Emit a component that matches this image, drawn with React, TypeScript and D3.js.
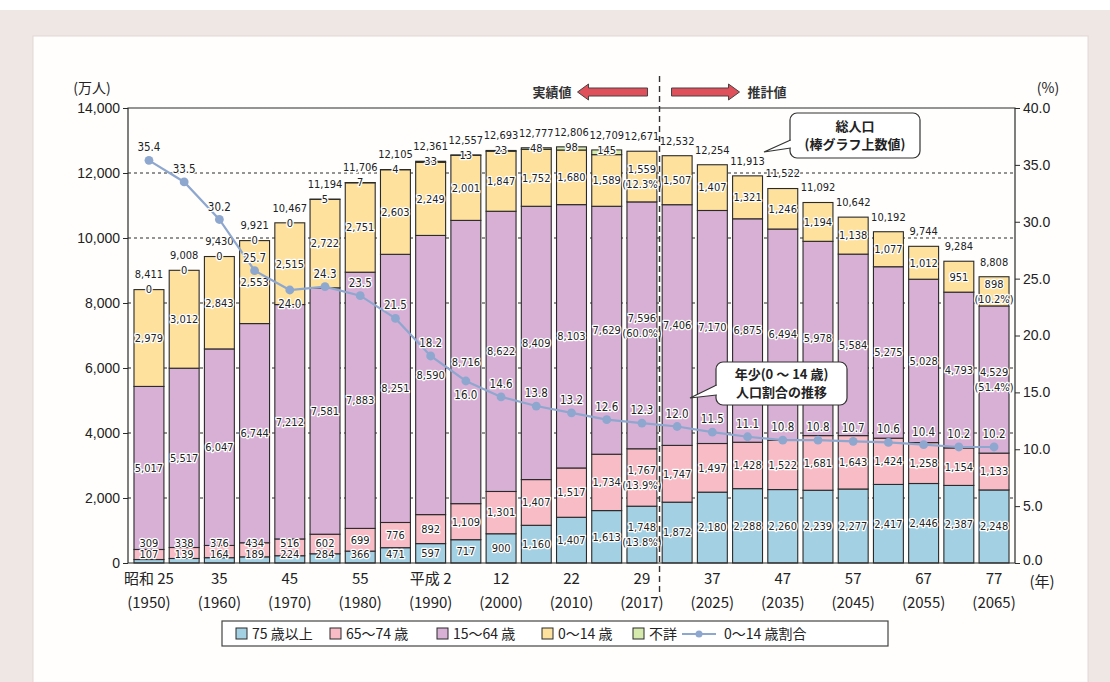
import { useEffect, useRef } from "react";
import * as d3 from "d3";

// 実績値 1950–2017, 推計値 2020–2065 (万人)
const years = [1950, 1955, 1960, 1965, 1970, 1975, 1980, 1985, 1990, 1995, 2000, 2005, 2010, 2015, 2017,
  2020, 2025, 2030, 2035, 2040, 2045, 2050, 2055, 2060, 2065];
const age75plus = [107, 139, 164, 189, 224, 284, 366, 471, 597, 717, 900, 1160, 1407, 1613, 1748,
  1872, 2180, 2288, 2260, 2239, 2277, 2417, 2446, 2387, 2248];
const age65to74 = [309, 338, 376, 434, 516, 602, 699, 776, 892, 1109, 1301, 1407, 1517, 1734, 1767,
  1747, 1497, 1428, 1522, 1681, 1643, 1424, 1258, 1154, 1133];
const age15to64 = [5017, 5517, 6047, 6744, 7212, 7581, 7883, 8251, 8590, 8716, 8622, 8409, 8103, 7629, 7596,
  7406, 7170, 6875, 6494, 5978, 5584, 5275, 5028, 4793, 4529];
const age0to14 = [2979, 3012, 2843, 2553, 2515, 2722, 2751, 2603, 2249, 2001, 1847, 1752, 1680, 1589, 1559,
  1507, 1407, 1321, 1246, 1194, 1138, 1077, 1012, 951, 898];
const unknownAge = [0, 0, 0, 0, 0, 5, 7, 4, 33, 13, 23, 48, 98, 145, null,
  null, null, null, null, null, null, null, null, null, null];
const totals = [8411, 9008, 9430, 9921, 10467, 11194, 11706, 12105, 12361, 12557, 12693, 12777, 12806, 12709, 12671,
  12532, 12254, 11913, 11522, 11092, 10642, 10192, 9744, 9284, 8808];
const childShare = [35.4, 33.5, 30.2, 25.7, 24.0, 24.3, 23.5, 21.5, 18.2, 16.0, 14.6, 13.8, 13.2, 12.6, 12.3,
  12.0, 11.5, 11.1, 10.8, 10.8, 10.7, 10.6, 10.4, 10.2, 10.2];
const shareNotes = [
  { i: 14, key: "a0", text: "(12.3%)" },
  { i: 14, key: "a15", text: "(60.0%)" },
  { i: 14, key: "a65", text: "(13.9%)" },
  { i: 14, key: "a75", text: "(13.8%)" },
  { i: 24, key: "a0", text: "(10.2%)" },
  { i: 24, key: "a15", text: "(51.4%)" },
];
const eraLabels = ["昭和 25", "35", "45", "55", "平成 2", "12", "22", "29", "37", "47", "57", "67", "77"];
const yearLabels = ["(1950)", "(1960)", "(1970)", "(1980)", "(1990)", "(2000)", "(2010)", "(2017)", "(2025)", "(2035)", "(2045)", "(2055)", "(2065)"];
const leftTicks = [0, 2000, 4000, 6000, 8000, 10000, 12000, 14000];
const rightTicks = [0, 5, 10, 15, 20, 25, 30, 35, 40];
const legendNames = ["75 歳以上", "65～74 歳", "15～64 歳", "0～14 歳", "不詳"];
const lineLegend = "0～14 歳割合";
const shareBelow = new Set([4, 9]);

const series = [
  { key: "a75", values: age75plus, color: "#a3d0e3" },
  { key: "a65", values: age65to74, color: "#f8bcc6" },
  { key: "a15", values: age15to64, color: "#d8b0d5" },
  { key: "a0", values: age0to14, color: "#fde19d" },
  { key: "unk", values: unknownAge, color: "#d6eaae" },
];

const JP = "'Noto Sans CJK JP', sans-serif";
const NUM = "'Liberation Sans Narrow', 'DejaVu Sans Condensed', 'Liberation Sans', sans-serif";
const INK = "#2a2a2a";
const LINE = "#8ea7cf";

export default function App() {
  const ref = useRef<SVGSVGElement>(null);
  useEffect(() => {
    if (!ref.current) return;
    const svg = d3.select(ref.current);
    svg.selectAll("*").remove();
    const W = 1110, H = 682;
    const m = { l: 128, r: 1015, t: 108, b: 563 };

    // page + card
    svg.append("rect").attr("width", W).attr("height", H).attr("fill", "#ffffff");
    svg.append("rect").attr("y", 10).attr("width", W).attr("height", H - 10).attr("fill", "#eee7e4");
    svg.append("rect").attr("x", 33).attr("y", 36).attr("width", 1055).attr("height", H).attr("fill", "#fffefd")
      .attr("stroke", "#e2d8d4");

    const x = d3.scaleBand<number>().domain(d3.range(years.length)).range([m.l, m.r]).paddingInner(0.15).paddingOuter(0.17);
    const y = d3.scaleLinear().domain([0, 14000]).range([m.b, m.t]);
    const y2 = d3.scaleLinear().domain([0, 40]).range([m.b, m.t]);
    const cx = (i: number) => x(i)! + x.bandwidth() / 2;

    const label = (g: any, px: number, py: number, t: string, size = 11, anchor = "middle", family = NUM) =>
      g.append("text").attr("x", px).attr("y", py).attr("dy", "0.35em").attr("text-anchor", anchor)
        .attr("font-family", family).attr("font-size", size).attr("fill", "#222")
        .attr("stroke", "#fff").attr("stroke-width", 2.5).attr("stroke-linejoin", "round")
        .attr("paint-order", "stroke").text(t);

    // dashed grid
    svg.append("g").selectAll("line").data(leftTicks.slice(1, -1)).join("line")
      .attr("x1", m.l).attr("x2", m.r).attr("y1", (d) => y(d)).attr("y2", (d) => y(d))
      .attr("stroke", INK).attr("stroke-width", 1).attr("stroke-dasharray", "3,3");

    // stacked bars
    const bars = svg.append("g");
    const labels = svg.append("g");
    const fmt = d3.format(",");
    years.forEach((_, i) => {
      let base = 0;
      const tops: Record<string, [number, number]> = {};
      series.forEach((s) => {
        const v = s.values[i];
        if (v === null) return;
        tops[s.key] = [base, base + v];
        bars.append("rect")
          .attr("x", x(i)!).attr("width", x.bandwidth())
          .attr("y", y(base + v)).attr("height", Math.max(0, y(base) - y(base + v)))
          .attr("fill", s.color).attr("stroke", INK).attr("stroke-width", 1.1);
        base += v;
      });
      const top = y(base);
      // segment labels
      const mid = (k: string) => (y(tops[k][0]) + y(tops[k][1])) / 2;
      const y75 = Math.min(mid("a75"), m.b - 9);
      const y65 = Math.min(mid("a65"), y75 - 11);
      const pos: Record<string, number> = { a75: y75, a65: y65, a15: mid("a15"), a0: mid("a0") };
      ["a75", "a65", "a15", "a0"].forEach((k) => {
        const s = series.find((d) => d.key === k)!;
        const note = shareNotes.find((n) => n.i === i && n.key === k);
        if (note) {
          label(labels, cx(i), pos[k] - 7.5, fmt(s.values[i] as number));
          label(labels, cx(i), pos[k] + 7.5, note.text);
        } else {
          label(labels, cx(i), pos[k], fmt(s.values[i] as number));
        }
      });
      if (unknownAge[i] !== null) label(labels, cx(i), top, fmt(unknownAge[i] as number));
      label(labels, cx(i), top - 15, fmt(totals[i]));
    });

    // frame
    svg.append("path").attr("d", `M${m.l},${m.b}V${m.t}H${m.r}V${m.b}Z`).attr("fill", "none").attr("stroke", INK).attr("stroke-width", 1.2);

    // axes
    const axL = svg.append("g").attr("transform", `translate(${m.l},0)`)
      .call(d3.axisLeft(y).tickValues(leftTicks).tickSize(5).tickFormat((d) => fmt(+d)));
    axL.select(".domain").remove();
    axL.selectAll("line").attr("stroke", INK);
    axL.selectAll("text").attr("font-family", "'Liberation Sans', sans-serif").attr("font-size", 14).attr("fill", "#222");
    const axR = svg.append("g").attr("transform", `translate(${m.r},0)`)
      .call(d3.axisRight(y2).tickValues(rightTicks).tickSize(5).tickFormat((d) => (+d).toFixed(1)));
    axR.select(".domain").remove();
    axR.selectAll("line").attr("stroke", INK);
    axR.selectAll("text").attr("font-family", "'Liberation Sans', sans-serif").attr("font-size", 14).attr("fill", "#222");
    axR.selectAll("text").filter((d: any) => d === 0).attr("dy", "0.1em");

    svg.append("text").attr("x", 92).attr("y", 93).attr("text-anchor", "middle").attr("font-family", JP).attr("font-size", 14).attr("fill", "#222").text("(万人)");
    svg.append("text").attr("x", 1048).attr("y", 93).attr("text-anchor", "middle").attr("font-family", JP).attr("font-size", 14).attr("fill", "#222").text("(%)");

    // x labels
    const xl = svg.append("g").attr("font-family", JP).attr("font-size", 15).attr("fill", "#222").attr("text-anchor", "middle");
    eraLabels.forEach((t, j) => {
      const i = j * 2;
      xl.append("text").attr("x", cx(i)).attr("y", 584).text(t);
      xl.append("text").attr("x", cx(i)).attr("y", 608).text(yearLabels[j]);
    });
    xl.append("text").attr("x", 1042).attr("y", 587).text("(年)");

    // divider & arrows
    const split = (x(14)! + x.bandwidth() + x(15)!) / 2;
    svg.append("line").attr("x1", split).attr("x2", split).attr("y1", 76).attr("y2", 594)
      .attr("stroke", "#333").attr("stroke-width", 1.4).attr("stroke-dasharray", "6,4");
    const arrow = (x0: number, x1: number, yc: number) => {
      const dir = Math.sign(x1 - x0);
      const hx = x1 - dir * 11;
      return `M${x0},${yc - 4}H${hx}V${yc - 8}L${x1},${yc}L${hx},${yc + 8}V${yc + 4}H${x0}Z`;
    };
    svg.append("path").attr("d", arrow(split - 12, split - 82, 92)).attr("fill", "#e0505a").attr("stroke", "#444").attr("stroke-width", 1);
    svg.append("path").attr("d", arrow(split + 12, split + 80, 92)).attr("fill", "#e0505a").attr("stroke", "#444").attr("stroke-width", 1);
    svg.append("text").attr("x", split - 88).attr("y", 92).attr("dy", "0.35em").attr("text-anchor", "end").attr("font-family", JP).attr("font-size", 13).attr("font-weight", "bold").attr("fill", "#333").text("実績値");
    svg.append("text").attr("x", split + 88).attr("y", 92).attr("dy", "0.35em").attr("font-family", JP).attr("font-size", 13).attr("font-weight", "bold").attr("fill", "#333").text("推計値");

    // share line
    const line = d3.line<number>().x((_, i) => cx(i)).y((d) => y2(d));
    svg.append("path").datum(childShare).attr("d", line).attr("fill", "none").attr("stroke", LINE).attr("stroke-width", 2.2);
    svg.append("g").selectAll("circle").data(childShare).join("circle")
      .attr("cx", (_, i) => cx(i)).attr("cy", (d) => y2(d)).attr("r", 4.4).attr("fill", LINE);
    const sl = svg.append("g");
    childShare.forEach((d, i) => label(sl, cx(i), y2(d) + (shareBelow.has(i) ? 14 : -13), d.toFixed(1), 11.5));

    // callouts
    const callout = (bx: number, by: number, bw: number, bh: number, tip: [number, number], a: number, b: number, lines: string[]) => {
      const g = svg.append("g");
      g.append("rect").attr("x", bx).attr("y", by).attr("width", bw).attr("height", bh).attr("rx", 7)
        .attr("fill", "#fff").attr("stroke", "#333").attr("stroke-width", 1.2);
      g.append("path").attr("d", `M${bx + 0.6},${a}L${tip[0]},${tip[1]}L${bx + 0.6},${b}`).attr("fill", "#fff").attr("stroke", "#333").attr("stroke-width", 1.2);
      g.append("line").attr("x1", bx + 0.6).attr("x2", bx + 0.6).attr("y1", a + 1).attr("y2", b - 1).attr("stroke", "#fff").attr("stroke-width", 2);
      lines.forEach((t, k) => g.append("text").attr("x", bx + bw / 2).attr("y", by + bh / 2 + (k - (lines.length - 1) / 2) * 18)
        .attr("dy", "0.35em").attr("text-anchor", "middle").attr("font-family", JP).attr("font-size", 13).attr("font-weight", "bold").attr("fill", "#222").text(t));
    };
    callout(790, 113, 130, 45, [764, 152], 140, 148, ["総人口", "(棒グラフ上数値)"]);
    callout(716, 362, 131, 43, [690, 398], 385, 395, ["年少(0 ～ 14 歳)", "人口割合の推移"]);

    // legend
    const lg = svg.append("g");
    lg.append("rect").attr("x", 222).attr("y", 621).attr("width", 666).attr("height", 25).attr("fill", "#fff").attr("stroke", "#444").attr("stroke-width", 1.2);
    const lx = [236, 330, 437, 542, 633];
    series.forEach((s, k) => {
      lg.append("rect").attr("x", lx[k]).attr("y", 628).attr("width", 11).attr("height", 11).attr("fill", s.color).attr("stroke", INK);
      lg.append("text").attr("x", lx[k] + 16).attr("y", 634).attr("dy", "0.35em").attr("font-family", JP).attr("font-size", 14).attr("fill", "#222").text(legendNames[k]);
    });
    lg.append("line").attr("x1", 682).attr("x2", 716).attr("y1", 634).attr("y2", 634).attr("stroke", LINE).attr("stroke-width", 2);
    lg.append("circle").attr("cx", 699).attr("cy", 634).attr("r", 3.5).attr("fill", LINE);
    lg.append("text").attr("x", 724).attr("y", 634).attr("dy", "0.35em").attr("font-family", JP).attr("font-size", 14).attr("fill", "#222").text(lineLegend);
  }, []);
  return <svg ref={ref} width={1110} height={682} style={{ position: "absolute", left: 0, top: 0 }} />;
}
